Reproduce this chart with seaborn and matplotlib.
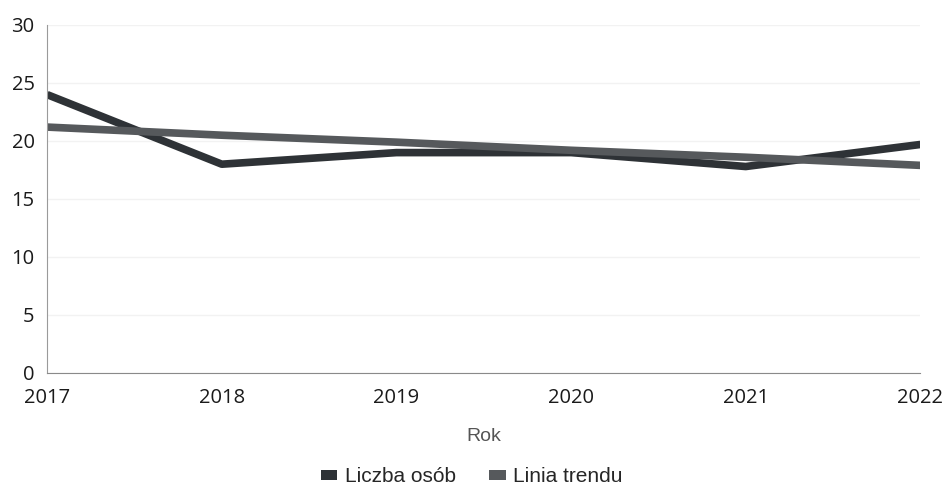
import matplotlib
matplotlib.use("Agg")
import matplotlib.pyplot as plt
from matplotlib.patches import Patch
import seaborn as sns
import pandas as pd

years = [2017, 2018, 2019, 2020, 2021, 2022]
liczba_osob = [24.0, 18.0, 19.0, 19.0, 17.8, 19.7]
linia_trendu = [21.2, 20.5, 19.9, 19.2, 18.6, 17.9]

series_names = ["Liczba osób", "Linia trendu"]
colors = ["#2e3236", "#56595c"]

df = pd.DataFrame({"Rok": years, series_names[0]: liczba_osob, series_names[1]: linia_trendu})
long_df = df.melt(id_vars="Rok", var_name="seria", value_name="wartosc")

sns.set_style("white")
plt.rcParams["font.family"] = ["Open Sans", "DejaVu Sans"]

fig = plt.figure(figsize=(9.43, 5), dpi=100)
ax = fig.add_axes([0.05, 0.254, 0.926, 0.696])

sns.lineplot(data=long_df, x="Rok", y="wartosc", hue="seria", palette=colors,
             linewidth=5.5, ax=ax, legend=False, solid_capstyle="butt")

ax.set_xlim(2017, 2022)
ax.set_ylim(0, 30)
ax.set_yticks(range(0, 31, 5))
ax.set_xticks(years)
ax.grid(axis="y", color="#f2f2f2", linewidth=1)
ax.tick_params(axis="both", labelsize=14.5, length=0, colors="#1a1a1a")
ax.tick_params(axis="y", pad=9)
ax.tick_params(axis="x", pad=11)
for s in ["top", "right"]:
    ax.spines[s].set_visible(False)
ax.spines["left"].set_color("#9a9a9a")
ax.spines["left"].set_linewidth(0.8)
ax.spines["bottom"].set_color("#8a8a8a")
ax.spines["bottom"].set_linewidth(0.8)

ax.set_ylabel("")
ax.set_xlabel("Rok", fontsize=14, color="#555555", family=["Liberation Sans", "DejaVu Sans"], labelpad=14)

handles = [Patch(facecolor=c, edgecolor="none") for c in colors]
fig.legend(handles, series_names, loc="lower center", bbox_to_anchor=(0.5, -0.01), ncol=2,
           frameon=False, handlelength=0.8, handleheight=0.4, handletextpad=0.35,
           columnspacing=1.6,
           prop={"family": ["Liberation Sans", "DejaVu Sans"], "size": 15})

fig.savefig("out.png", dpi=100)
